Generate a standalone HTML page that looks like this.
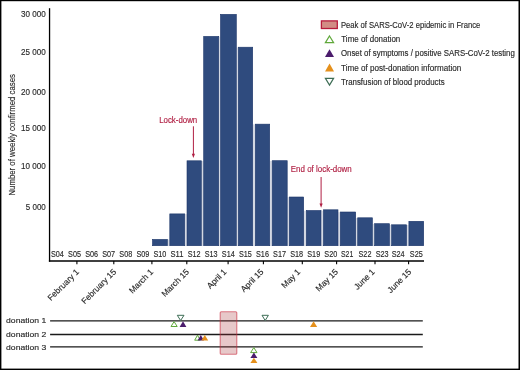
<!DOCTYPE html>
<html><head><meta charset="utf-8"><style>
html,body{margin:0;padding:0;background:#fff;}
body{width:520px;height:370px;overflow:hidden;position:relative;}
svg{position:absolute;left:0;top:0;display:block;will-change:transform;}
text{font-family:"Liberation Sans",sans-serif;stroke:currentColor;stroke-width:0.15px;}
</style></head><body>
<svg width="520" height="370" viewBox="0 0 520 370">
<rect x="0" y="0" width="520" height="370" fill="#fff"/>
<g fill="#d3d8e3"><rect x="167.70" y="239.60" width="1.80" height="6.40"/><rect x="185.00" y="214.10" width="1.70" height="31.90"/><rect x="201.60" y="161.00" width="1.80" height="85.00"/><rect x="219.00" y="36.60" width="1.20" height="209.40"/><rect x="236.60" y="47.40" width="1.40" height="198.60"/><rect x="253.00" y="124.35" width="2.00" height="121.65"/><rect x="270.00" y="160.90" width="1.90" height="85.10"/><rect x="287.50" y="197.20" width="1.50" height="48.80"/><rect x="304.00" y="210.70" width="2.00" height="35.30"/><rect x="321.30" y="210.70" width="1.80" height="35.30"/><rect x="338.30" y="212.20" width="1.70" height="33.80"/><rect x="356.00" y="218.00" width="1.40" height="28.00"/><rect x="372.70" y="223.90" width="1.60" height="22.10"/><rect x="389.80" y="225.00" width="1.50" height="21.00"/><rect x="406.90" y="225.00" width="1.70" height="21.00"/></g>
<g fill="#2f4b7e" stroke="#1b3569" stroke-width="0.6">
<rect x="152.50" y="239.40" width="14.90" height="6.30"/><rect x="169.80" y="213.90" width="14.90" height="31.80"/><rect x="187.00" y="160.80" width="14.30" height="84.90"/><rect x="203.70" y="36.40" width="15.00" height="209.30"/><rect x="220.50" y="14.35" width="15.80" height="231.35"/><rect x="238.30" y="47.20" width="14.40" height="198.50"/><rect x="255.30" y="124.15" width="14.40" height="121.55"/><rect x="272.20" y="160.70" width="15.00" height="85.00"/><rect x="289.30" y="197.00" width="14.40" height="48.70"/><rect x="306.30" y="210.50" width="14.70" height="35.20"/><rect x="323.40" y="209.80" width="14.60" height="35.90"/><rect x="340.30" y="212.00" width="15.40" height="33.70"/><rect x="357.70" y="217.80" width="14.70" height="27.90"/><rect x="374.60" y="223.70" width="14.90" height="22.00"/><rect x="391.60" y="224.80" width="15.00" height="20.90"/><rect x="408.90" y="221.30" width="14.80" height="24.40"/>
</g>
<g stroke="#000" stroke-width="1.3" fill="none">
<line x1="49.55" y1="8.2" x2="49.55" y2="261.7"/>
<line x1="48.9" y1="261.0" x2="424" y2="261.0"/>
</g>
<g stroke="#000" stroke-width="1.1"><line x1="76.9" y1="261" x2="76.9" y2="264.2"/><line x1="113.8" y1="261" x2="113.8" y2="264.2"/><line x1="151.9" y1="261" x2="151.9" y2="264.2"/><line x1="186.8" y1="261" x2="186.8" y2="264.2"/><line x1="228.1" y1="261" x2="228.1" y2="264.2"/><line x1="263.4" y1="261" x2="263.4" y2="264.2"/><line x1="302.3" y1="261" x2="302.3" y2="264.2"/><line x1="336.6" y1="261" x2="336.6" y2="264.2"/><line x1="375" y1="261" x2="375" y2="264.2"/><line x1="408.6" y1="261" x2="408.6" y2="264.2"/></g>
<g font-size="8.9" fill="#2a2a2a" color="#2a2a2a" text-anchor="end"><text x="45.8" y="16.7" textLength="24.7" lengthAdjust="spacingAndGlyphs">30 000</text><text x="45.8" y="54.8" textLength="24.7" lengthAdjust="spacingAndGlyphs">25 000</text><text x="45.8" y="95.3" textLength="24.7" lengthAdjust="spacingAndGlyphs">20 000</text><text x="45.8" y="131.3" textLength="24.7" lengthAdjust="spacingAndGlyphs">15 000</text><text x="45.8" y="169.1" textLength="24.7" lengthAdjust="spacingAndGlyphs">10 000</text><text x="45.8" y="210.0" textLength="20.0" lengthAdjust="spacingAndGlyphs">5 000</text></g>
<g font-size="8.2" fill="#2a2a2a" color="#2a2a2a" text-anchor="middle"><text x="57.43" y="256.7" textLength="12.9" lengthAdjust="spacingAndGlyphs">S04</text><text x="74.51" y="256.7" textLength="12.9" lengthAdjust="spacingAndGlyphs">S05</text><text x="91.60" y="256.7" textLength="12.9" lengthAdjust="spacingAndGlyphs">S06</text><text x="108.69" y="256.7" textLength="12.9" lengthAdjust="spacingAndGlyphs">S07</text><text x="125.78" y="256.7" textLength="12.9" lengthAdjust="spacingAndGlyphs">S08</text><text x="142.86" y="256.7" textLength="12.9" lengthAdjust="spacingAndGlyphs">S09</text><text x="159.95" y="256.7" textLength="12.9" lengthAdjust="spacingAndGlyphs">S10</text><text x="177.04" y="256.7" textLength="12.9" lengthAdjust="spacingAndGlyphs">S11</text><text x="194.12" y="256.7" textLength="12.9" lengthAdjust="spacingAndGlyphs">S12</text><text x="211.21" y="256.7" textLength="12.9" lengthAdjust="spacingAndGlyphs">S13</text><text x="228.30" y="256.7" textLength="12.9" lengthAdjust="spacingAndGlyphs">S14</text><text x="245.38" y="256.7" textLength="12.9" lengthAdjust="spacingAndGlyphs">S15</text><text x="262.47" y="256.7" textLength="12.9" lengthAdjust="spacingAndGlyphs">S16</text><text x="279.56" y="256.7" textLength="12.9" lengthAdjust="spacingAndGlyphs">S17</text><text x="296.65" y="256.7" textLength="12.9" lengthAdjust="spacingAndGlyphs">S18</text><text x="313.73" y="256.7" textLength="12.9" lengthAdjust="spacingAndGlyphs">S19</text><text x="330.82" y="256.7" textLength="12.9" lengthAdjust="spacingAndGlyphs">S20</text><text x="347.11" y="256.7" textLength="12.2" lengthAdjust="spacingAndGlyphs">S21</text><text x="364.99" y="256.7" textLength="12.9" lengthAdjust="spacingAndGlyphs">S22</text><text x="382.08" y="256.7" textLength="12.9" lengthAdjust="spacingAndGlyphs">S23</text><text x="398.17" y="256.7" textLength="12.9" lengthAdjust="spacingAndGlyphs">S24</text><text x="416.25" y="256.7" textLength="12.9" lengthAdjust="spacingAndGlyphs">S25</text></g>
<g font-size="8.4" fill="#2a2a2a" color="#2a2a2a" text-anchor="end"><text transform="translate(79.6,272.5) rotate(-45)">February 1</text><text transform="translate(116.7,272.5) rotate(-45)">February 15</text><text transform="translate(153.8,272.5) rotate(-45)">March 1</text><text transform="translate(189.6,272.5) rotate(-45)">March 15</text><text transform="translate(227.0,272.5) rotate(-45)">April 1</text><text transform="translate(264.1,272.5) rotate(-45)">April 15</text><text transform="translate(300.9,272.5) rotate(-45)">May 1</text><text transform="translate(338.5,272.5) rotate(-45)">May 15</text><text transform="translate(375.2,272.5) rotate(-45)">June 1</text><text transform="translate(411.8,272.5) rotate(-45)">June 15</text></g>
<text transform="translate(15.3,134.8) rotate(-90)" font-size="9.6" fill="#2a2a2a" color="#2a2a2a" text-anchor="middle" textLength="121.6" lengthAdjust="spacingAndGlyphs">Number of weekly confirmed cases</text>
<!-- annotations -->
<g fill="#b01f43" color="#b01f43" font-size="8.3">
<text x="159.2" y="123.3" textLength="38" lengthAdjust="spacingAndGlyphs">Lock-down</text>
<text x="290.8" y="172.3" textLength="61" lengthAdjust="spacingAndGlyphs">End of lock-down</text>
</g>
<g stroke="#b01f43" stroke-width="1">
<line x1="193.4" y1="126.3" x2="193.4" y2="154.5"/>
<line x1="321.1" y1="177" x2="321.1" y2="204.5"/>
</g>
<g fill="#b01f43">
<path d="M191.8,153.8 L195,153.8 L193.4,158 Z"/>
<path d="M319.5,203.6 L322.7,203.6 L321.1,207.8 Z"/>
</g>
<!-- legend -->
<rect x="321.4" y="20.9" width="15.9" height="7.6" fill="#d28c84" stroke="#b71c3c" stroke-width="1.3"/>
<path d="M329.5,36 L333.6,42.6 L325.4,42.6 Z" fill="#fff" stroke="#5fa83a" stroke-width="1.2"/>
<path d="M329.5,49.3 L334,57 L325,57 Z" fill="#4b1c6c"/>
<path d="M329.5,63.4 L334,71.6 L325,71.6 Z" fill="#e5901c"/>
<path d="M329.5,85.1 L333.6,78.3 L325.4,78.3 Z" fill="#fff" stroke="#3d6d55" stroke-width="1.2"/>
<g font-size="8.4" fill="#2a2a2a" color="#2a2a2a" style="stroke-width:0.18px">
<text x="341" y="27.6" textLength="139.2" lengthAdjust="spacingAndGlyphs">Peak of SARS-CoV-2 epidemic in France</text>
<text x="341.3" y="41.8" textLength="59" lengthAdjust="spacingAndGlyphs">Time of donation</text>
<text x="341" y="56.3" textLength="173.8" lengthAdjust="spacingAndGlyphs">Onset of symptoms / positive SARS-CoV-2 testing</text>
<text x="341" y="70.6" textLength="120.2" lengthAdjust="spacingAndGlyphs">Time of post-donation information</text>
<text x="341" y="84.9" textLength="103.6" lengthAdjust="spacingAndGlyphs">Transfusion of blood products</text>
</g>
<!-- donation timelines -->
<g font-size="7.9" fill="#2a2a2a" color="#2a2a2a" style="stroke-width:0.12px">
<text x="6.1" y="323.4" textLength="40.1" lengthAdjust="spacingAndGlyphs">donation 1</text>
<text x="6.1" y="336.8" textLength="40.1" lengthAdjust="spacingAndGlyphs">donation 2</text>
<text x="6.1" y="349.5" textLength="40.1" lengthAdjust="spacingAndGlyphs">donation 3</text>
</g>
<g stroke="#1a1a1a" stroke-width="1.3">
<line x1="50.1" y1="320.9" x2="422.8" y2="320.9"/>
<line x1="50.1" y1="334.5" x2="422.8" y2="334.5"/>
<line x1="50.1" y1="346.8" x2="422.8" y2="346.8"/>
</g>
<rect x="220.2" y="311.7" width="16.6" height="42.6" rx="1" fill="rgba(165,50,55,0.27)" stroke="rgba(200,40,60,0.6)" stroke-width="1.1"/>
<!-- markers line1 -->
<path d="M177.3,315.3 L184,315.3 L180.6,320.5 Z" fill="#fff" stroke="#3d6d55" stroke-width="1"/>
<path d="M174.1,321.6 L177.2,326.5 L171,326.5 Z" fill="#fff" stroke="#5fa83a" stroke-width="1"/>
<path d="M183,321.3 L186.4,327 L179.6,327 Z" fill="#4b1c6c"/>
<path d="M262,315.3 L268.4,315.3 L265.2,320.5 Z" fill="#fff" stroke="#3d6d55" stroke-width="1"/>
<path d="M313.6,321.2 L317.2,327 L310,327 Z" fill="#e5901c"/>
<!-- line2 -->
<path d="M197.5,335.2 L200.3,340.2 L194.7,340.2 Z" fill="#fff" stroke="#5fa83a" stroke-width="1"/>
<path d="M200.8,334.9 L204,340.5 L197.6,340.5 Z" fill="#4b1c6c"/>
<path d="M204.8,334.9 L208.2,340.5 L201.4,340.5 Z" fill="#e5901c"/>
<!-- line3 -->
<path d="M253.8,347.6 L257,352.6 L250.6,352.6 Z" fill="#fff" stroke="#5fa83a" stroke-width="1"/>
<path d="M253.9,352.6 L257.4,357.9 L250.4,357.9 Z" fill="#4b1c6c"/>
<path d="M253.9,357.7 L257.4,363 L250.4,363 Z" fill="#e5901c"/>
<!-- frame -->
<g fill="#000"><rect x="0" y="0" width="520" height="1.2"/><rect x="0" y="0" width="1.4" height="370"/><rect x="518.5" y="0" width="1.5" height="370"/><rect x="0" y="368.6" width="520" height="1.4"/></g>
</svg>
</body></html>
